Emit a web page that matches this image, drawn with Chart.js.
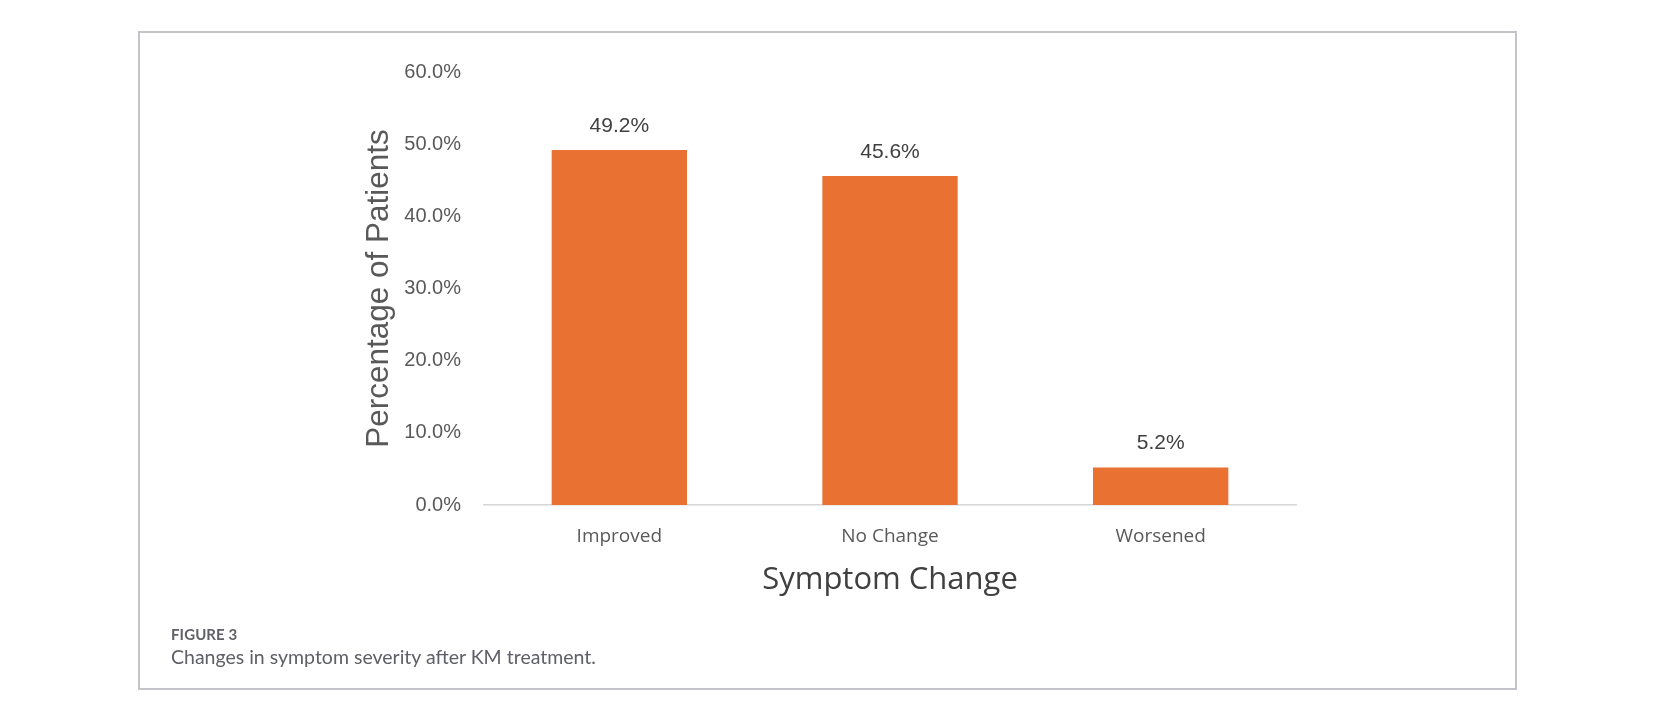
<!DOCTYPE html>
<html>
<head>
<meta charset="utf-8">
<script src="https://cdn.jsdelivr.net/npm/chart.js@4/dist/chart.umd.min.js"></script>
<style>
  html, body { margin: 0; padding: 0; background: #ffffff; }
  body { width: 1654px; height: 725px; position: relative; overflow: hidden; }
  #frame { position: absolute; left: 138px; top: 31px; width: 1379px; height: 659px; box-sizing: border-box; border: 2px solid #c3c4c9; }
  #chart { position: absolute; left: 0; top: 0; }
  .cap1 { position: absolute; left: 171px; top: 625px; font-family: Lato, "Open Sans", sans-serif; font-size: 15px; font-weight: 700; color: #606066; letter-spacing: 0.1px; }
  .cap2 { position: absolute; left: 171px; top: 645px; font-family: Lato, "Open Sans", sans-serif; font-size: 19.5px; font-weight: 400; color: #5f6066; }
</style>
</head>
<body>
<div id="frame"></div>
<canvas id="chart" width="1654" height="725"></canvas>
<div class="cap1">FIGURE 3</div>
<div class="cap2">Changes in symptom severity after KM treatment.</div>
<script>
const categories = ["Improved", "No Change", "Worsened"];
const percentages = [49.2, 45.6, 5.2];
const yTickValues = [0, 10, 20, 30, 40, 50, 60];
const xAxisTitle = "Symptom Change";
const yAxisTitle = "Percentage of Patients";

const barLabels = {
  id: 'barLabels',
  afterDatasetsDraw(chart) {
    const ctx = chart.ctx;
    const meta = chart.getDatasetMeta(0);
    ctx.save();
    ctx.font = '21px "Liberation Sans", Arial, sans-serif';
    ctx.fillStyle = '#404040';
    ctx.textAlign = 'center';
    ctx.textBaseline = 'middle';
    meta.data.forEach((bar, i) => {
      const v = chart.data.datasets[0].data[i];
      ctx.fillText(v.toFixed(1) + '%', bar.x, bar.y - 24);
    });
    ctx.restore();
  }
};

new Chart(document.getElementById('chart'), {
  type: 'bar',
  data: {
    labels: categories,
    datasets: [{
      data: percentages,
      backgroundColor: '#E97132',
      borderWidth: 0,
      barPercentage: 0.5,
      categoryPercentage: 1.0
    }]
  },
  options: {
    responsive: false,
    devicePixelRatio: 1,
    animation: false,
    layout: { padding: { left: 360, right: 358, top: 72, bottom: 126 } },
    plugins: { legend: { display: false }, tooltip: { enabled: false } },
    scales: {
      x: {
        grid: { display: false, drawTicks: false, tickLength: 0 },
        border: { display: true, color: '#d6d6d6', width: 1.5 },
        ticks: { color: '#595959', padding: 20, font: { family: '"Open Sans", sans-serif', size: 19 } },
        title: { display: true, text: xAxisTitle, color: '#404040', padding: 0, font: { family: '"Open Sans", sans-serif', size: 31 } },
        afterFit(scale) { scale.height = 94; }
      },
      y: {
        min: 0,
        max: 60,
        grid: { display: false, drawTicks: false, tickLength: 0 },
        border: { display: false },
        afterBuildTicks(scale) { scale.ticks = yTickValues.map(v => ({ value: v })); },
        ticks: {
          color: '#595959',
          padding: 23,
          font: { family: '"Liberation Sans", Arial, sans-serif', size: 20 },
          callback: (v) => Number(v).toFixed(1) + '%'
        },
        title: { display: true, text: yAxisTitle, color: '#595959', padding: 0, font: { family: '"Liberation Sans", Arial, sans-serif', size: 31.5 } },
        afterFit(scale) { scale.width = 124; }
      }
    }
  },
  plugins: [barLabels]
});
</script>
</body>
</html>
